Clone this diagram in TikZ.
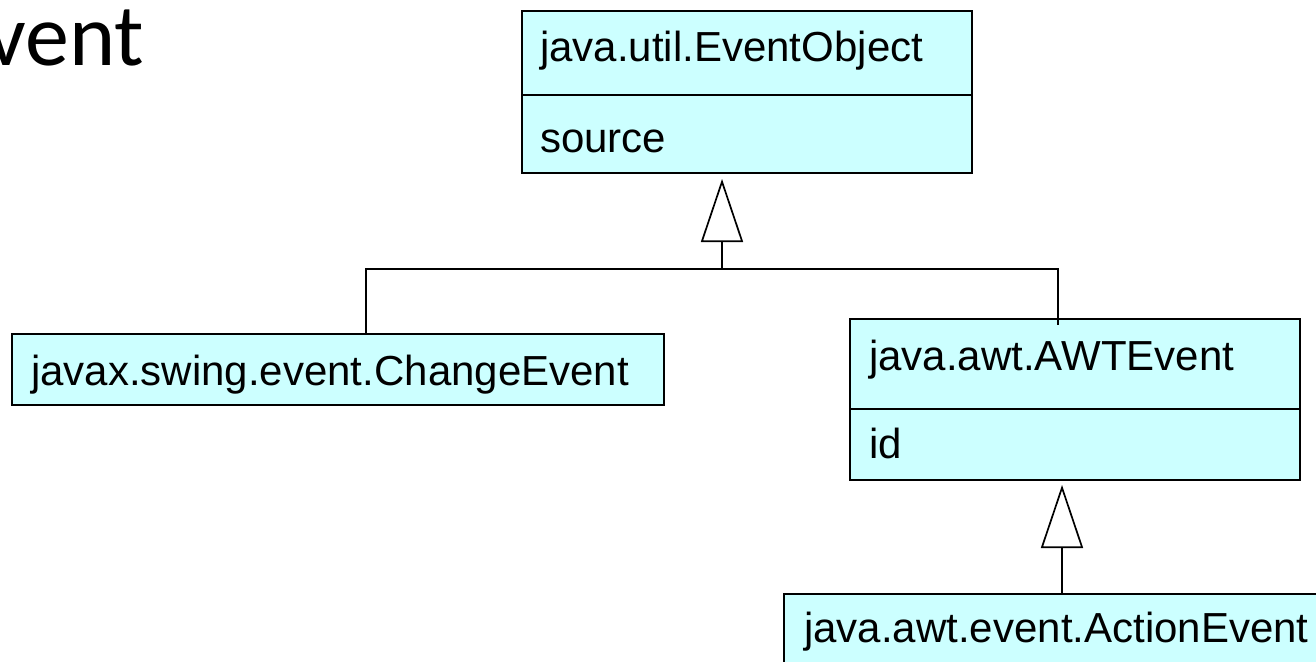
\documentclass[tikz,border=0pt]{standalone}
\usepackage{fontspec}
\setmainfont{Liberation Sans}
\newfontfamily\titlefont{Carlito}
\usetikzlibrary{arrows.meta}
\definecolor{boxfill}{RGB}{204,255,255}
\tikzset{
  umlbox/.style={draw=black, line width=2pt, fill=boxfill, rectangle, inner sep=0pt, anchor=north west},
  lbl/.style={inner sep=0pt, anchor=base west, font=\fontsize{42}{50}\selectfont},
  conn/.style={draw=black, line width=1.7pt},
  gentip/.style={-{Triangle[open, length=63pt, width=42pt, line width=1.7pt]}},
}
\begin{document}
\begin{tikzpicture}[x=1pt, y=-1pt]
\clip (0,0) rectangle (1316,661);
\fill[white] (0,0) rectangle (1316,661);

% title (clipped at the left edge)
\node[inner sep=0pt, anchor=base west, font=\titlefont\fontsize{88}{100}\selectfont] (title) at (-14,65) {vent};

% java.util.EventObject
\node[umlbox, minimum width=450pt, minimum height=84pt] (eoH) at (521,10) {};
\node[umlbox, minimum width=450pt, minimum height=78pt] (eoA) at (521,94) {};
\node[lbl] (eoT) at (540,62) {java.util.EventObject};
\node[lbl] (eoS) at (540,152) {source};

% javax.swing.event.ChangeEvent
\node[umlbox, minimum width=652pt, minimum height=71pt] (ce) at (11,333) {};
\node[lbl] (ceT) at (31,385) {javax.swing.event.ChangeEvent};

% java.awt.AWTEvent
\node[umlbox, minimum width=450pt, minimum height=90pt] (awH) at (849,318) {};
\node[umlbox, minimum width=450pt, minimum height=71pt] (awA) at (849,408) {};
\node[lbl] (awT) at (869,370) {java.awt.AWTEvent};
\node[lbl] (awI) at (869,458) {id};

% java.awt.event.ActionEvent
\node[umlbox, minimum width=560pt, minimum height=120pt] (ae) at (783,593) {};
\node[lbl] (aeT) at (804,642) {java.awt.event.ActionEvent};

% generalization tree to EventObject
\coordinate (hub) at (722,269);
\coordinate (lft) at (366,269);
\coordinate (rgt) at (1058,269);
\draw[conn] (lft |- ce.north) -- (lft) -- (rgt) -- ([yshift=-7pt]rgt |- awH.north);
\draw[conn, gentip, shorten >=5pt] (hub) -- (hub |- eoA.south);

% generalization ActionEvent -> AWTEvent
\coordinate (stem) at (1062,593);
\draw[conn, gentip, shorten >=4pt] (stem |- ae.north) -- (stem |- awA.south);
\end{tikzpicture}
\end{document}
